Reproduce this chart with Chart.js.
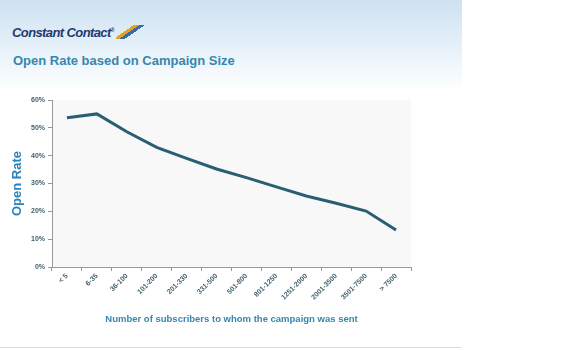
<!DOCTYPE html>
<html>
<head>
<meta charset="utf-8">
<script src="https://cdn.jsdelivr.net/npm/chart.js@4"></script>
<style>
  body { margin:0; width:580px; height:350px; background:#fff; font-family:"Liberation Sans", Arial, sans-serif; overflow:hidden; }
  #page { position:relative; width:462px; height:347px; border-bottom:1px solid #ddd; }
  #header { position:absolute; left:0; top:0; width:462px; height:92px;
    background:linear-gradient(to bottom, #cde2f1 0%, #e3eff8 45%, #ffffff 100%); }
  #logo { position:absolute; left:12px; top:25px; font-size:13px; font-weight:bold; font-style:italic;
    color:#1d3b72; letter-spacing:-0.6px; }
  #logo .mark { display:inline-block; width:24px; height:14px; margin-left:5px; vertical-align:-2px;
    background:linear-gradient(135deg, transparent 30%, #e8a020 30%, #e8a020 45%, #3a6aa8 45%, #3a6aa8 60%, transparent 60%); transform:skewX(-25deg); }
  #title { position:absolute; left:13px; top:53px; font-size:13px; font-weight:bold; color:#3587ad; }
  #wrap { position:absolute; left:0; top:90px; width:462px; height:250px; }
</style>
</head>
<body>
<div id="page">
  <div id="header"></div>
  <div id="logo">Constant Contact<sup style="font-size:5px">®</sup><span class="mark"></span></div>
  <div id="title">Open Rate based on Campaign Size</div>
  <div id="wrap"><canvas id="chart"></canvas></div>
</div>
<script>
const sizeLabels = ['< 5', '6-35', '36-100', '101-200', '201-330', '331-500', '501-800',
                    '801-1250', '1251-2000', '2001-3500', '3501-7500', '> 7500'];
const openRates = [0.536, 0.550, 0.486, 0.430, 0.390, 0.352, 0.321, 0.288, 0.255, 0.229, 0.201, 0.133];
const yTicks = [0, 0.1, 0.2, 0.3, 0.4, 0.5, 0.6];

// light gray plot background
const plotBg = {
  id: 'plotBg',
  beforeDraw(chart) {
    const { ctx, chartArea: a } = chart;
    ctx.save();
    ctx.fillStyle = '#f8f8f8';
    ctx.fillRect(a.left, a.top, a.right - a.left, a.bottom - a.top);
    ctx.restore();
  },
};

new Chart(document.getElementById('chart'), {
  type: 'line',
  data: {
    labels: sizeLabels,
    datasets: [{
      data: openRates,
      borderColor: '#2a5e72',
      borderWidth: 3,
      pointRadius: 0,
      tension: 0,
    }],
  },
  options: {
    responsive: true, maintainAspectRatio: false, animation: false,
    layout: { padding: { top: 10, right: 51, left: 0, bottom: 11 } },
    plugins: { legend: { display: false }, tooltip: { enabled: false } },
    scales: {
      x: {
        offset: true,
        grid: { offset: true, drawOnChartArea: false, tickLength: 4, color: '#999' },
        border: { color: '#999' },
        ticks: { minRotation: 45, maxRotation: 45, color: '#43606e', font: { size: 7, weight: 'bold' }, padding: 1 },
        title: { display: true, text: 'Number of subscribers to whom the campaign was sent',
                 color: '#3587ad', font: { size: 9.5, weight: 'bold' }, padding: { top: 10 } },
        afterFit(s) { s.height = 62; },
      },
      y: {
        min: 0, max: 0.6,
        afterBuildTicks(s) { s.ticks = yTicks.map(v => ({ value: v })); },
        grid: { drawOnChartArea: false, tickLength: 4, color: '#999' },
        border: { color: '#999' },
        ticks: { color: '#43606e', font: { size: 7, weight: 'bold' }, padding: 3,
                 callback: v => Math.round(v * 100) + '%' },
        title: { display: true, text: 'Open Rate', color: '#2a82b8',
                 font: { size: 13, weight: 'bold' }, padding: { top: 10, bottom: 0 } },
        afterFit(s) { s.width = 52; },
      },
    },
  },
  plugins: [plotBg],
});
</script>
</body>
</html>
